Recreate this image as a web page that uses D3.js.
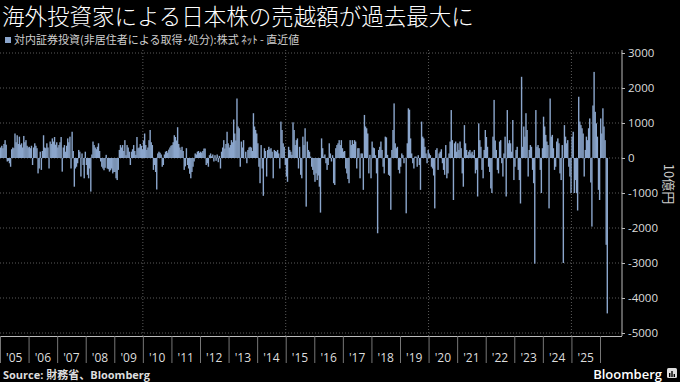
<!DOCTYPE html>
<html>
<head>
<meta charset="utf-8">
<script src="https://cdn.jsdelivr.net/npm/d3@7"></script>
<style>
  body { margin: 0; background: #000; }
  svg { display: block; }
</style>
</head>
<body>
<script>
    // net purchases of Japanese stocks by non-residents, 10億円, about two weeks per value
    var v2005 = [300, 350, 280, 400, 510, 380, -100, -80, -150, -250, 250, 300, 280, 700, 450, 650, 400, 610, 380, 420, 300, 630, 450, 510, 350, 300];
    var v2006 = [320, 280, 350, -200, 300, 420, 350, 280, -440, -300, 180, -340, 200, 650, 300, 280, 420, 300, -300, 470, 400, 560, 470, 600, 380, 450];
    var v2007 = [300, 370, 450, 600, -390, 300, 370, 180, 350, 560, 450, 610, -300, 750, 200, -820, -300, -250, -150, 230, 180, -530, 130, -200, -580, 180];
    var v2008 = [-200, -480, -580, -300, -960, 100, 470, 370, 300, 250, 320, 420, 200, -100, -250, -300, -350, -280, 90, -300, -320, -390, -350, -300, -440, -400];
    var v2009 = [-400, -580, -630, -340, 230, 370, 300, 370, 200, 510, 80, 370, 300, 180, -200, 180, 250, 370, 200, 90, 600, 280, 300, 400, 350, 250];
    var v2010 = [500, 700, 370, 230, 300, 510, 800, 450, 370, -340, -200, -400, -900, 130, 180, 150, 100, -250, -200, 100, 180, 200, 150, 240, 300, 350];
    var v2011 = [370, 450, 650, 600, 500, 880, 400, 300, 230, 320, 200, -340, -240, 280, -200, -300, -450, -580, -400, -250, -100, 130, 100, 180, 200, 150];
    var v2012 = [180, 150, 200, 270, 270, -200, -150, -250, 80, 130, 50, 100, -100, 80, -80, 100, -120, 60, -300, 180, 300, 510, 270, 400, 750, 420];
    var v2013 = [300, 370, 510, 450, 1100, 700, 500, 1700, 900, 850, -250, 470, 300, 510, -10, 180, -150, 230, 300, 320, 300, 200, 1280, 900, 800, 700];
    var v2014 = [420, -250, -720, 370, -300, -1080, 280, 200, -530, 230, 320, 250, 280, 180, -580, 230, 200, 180, 230, 130, -300, 1040, 800, 420, 320, -200];
    var v2015 = [-530, -680, 320, 230, 180, 90, 1020, 800, 370, 510, 560, -300, 320, -480, -580, 610, 370, 850, -1390, 470, 230, 180, 40, -250, -340, -480];
    var v2016 = [-680, -440, -630, -500, -820, -1560, 560, 280, 40, 100, -150, -340, -200, 420, 130, -100, 80, -720, -770, 280, 370, 420, 510, 370, 510, 280];
    var v2017 = [180, 200, -300, -440, -600, -720, 510, 370, 510, 400, 510, 470, -300, 280, 280, -580, 130, 130, -910, 1230, 900, 850, 700, -440, 90, -580];
    var v2018 = [470, 300, 280, 80, -440, -2150, 230, 320, 470, 230, -250, -440, 610, 590, 90, -480, -510, -1480, 230, 800, 1560, 420, 280, 320, -340, -440];
    var v2019 = [-250, 130, 80, -150, 0, -1580, 420, 1420, 1380, 560, 130, -150, -300, 40, 40, -250, 80, -200, -910, 1040, 610, 560, 320, 130, -150, 230];
    var v2020 = [130, 80, -250, -300, -500, -1440, 230, 280, -340, 130, 180, 250, -150, -340, -480, 370, -580, -440, 130, 470, 1370, 510, -1200, 420, 470, 180];
    var v2021 = [420, 230, 470, 280, -440, -820, 940, 420, 230, 80, 180, 230, 130, 180, 80, 230, -440, -340, -1100, 990, 510, 320, -340, -580, 230, 800];
    var v2022 = [600, 320, -250, -400, -870, -1000, 610, 1660, 500, 230, -340, -440, 470, 510, -150, -530, 130, 610, -1100, 1370, 420, 510, 420, 180, 1085, -630];
    var v2023 = [-250, 230, 320, -340, -630, -1300, 2320, 320, 900, 610, 1280, 800, -530, 230, 370, 320, -340, -720, -3020, 1370, 320, 370, 280, -340, -1000, 280];
    var v2024 = [1180, 900, 660, 470, 370, -1440, 1700, 610, 660, 280, -340, -250, 470, 560, 420, -440, -630, 370, -3000, 940, 610, 420, 510, -250, -530, -1000];
    var v2025 = [610, 750, -1000, -630, -1000, -1500, 1750, 1040, 940, 850, 700, -530, 230, 610, 510, 850, 1130, -700, -1960, 1500, 2460, 1320, 990, 610, -910, -1200, 1130, 700, 1420, 900, 510, -2480, -4440];

    var yearTicks = d3.range(2005, 2027);
    var yearLabels = ["'05", "'06", "'07", "'08", "'09", "'10", "'11", "'12", "'13", "'14", "'15",
                      "'16", "'17", "'18", "'19", "'20", "'21", "'22", "'23", "'24", "'25"];
    var yTicks = [3000, 2000, 1000, 0, -1000, -2000, -3000, -4000, -5000];
    var gridYears = [2010, 2015, 2020, 2025];

    var perYear = 26;
    var values = [].concat(v2005, v2006, v2007, v2008, v2009, v2010, v2011, v2012, v2013, v2014,
                           v2015, v2016, v2017, v2018, v2019, v2020, v2021, v2022, v2023, v2024, v2025);

    var w = 680, h = 382;
    var cjk = "'Noto Sans CJK JP', sans-serif";
    var latin = "'Open Sans', 'Noto Sans CJK JP', sans-serif";

    var svg = d3.select("body").append("svg")
            .attr("width", w)
            .attr("height", h)
            .style("background", "#000");

    var x = d3.scaleLinear().domain([2005, 2026]).range([0, 600]);
    var y = d3.scaleLinear().domain([-5000, 3000]).range([333, 53]);

    // title + legend
    svg.append("text")
        .attr("x", 2).attr("y", 25)
        .attr("fill", "#fff")
        .style("font-family", cjk)
        .style("font-size", "22.5px")
        .style("font-weight", "300")
        .text("海外投資家による日本株の売越額が過去最大に");

    svg.append("rect")
        .attr("x", 5).attr("y", 37).attr("width", 6).attr("height", 6)
        .attr("fill", "#8ba6cc");
    svg.append("text")
        .attr("x", 14).attr("y", 44)
        .attr("fill", "#cfcfcf")
        .style("font-family", cjk)
        .style("font-size", "11px")
        .text("対内証券投資(非居住者による取得･処分):株式 ﾈｯﾄ - 直近値");

    // dotted grid
    var grid = svg.append("g").attr("stroke", "#5a5a5a").attr("stroke-dasharray", "1,2");
    grid.selectAll("line.h").data(yTicks).enter().append("line")
        .attr("class", "h")
        .attr("x1", 0).attr("x2", 622)
        .attr("y1", function (d) { return y(d); })
        .attr("y2", function (d) { return y(d); });
    grid.selectAll("line.v").data(gridYears).enter().append("line")
        .attr("class", "v")
        .attr("x1", function (d) { return x(d); })
        .attr("x2", function (d) { return x(d); })
        .attr("y1", 50).attr("y2", 336);

    // bars
    var step = x(2005 + 1 / perYear) - x(2005);
    svg.append("g").selectAll("rect").data(values).enter().append("rect")
        .attr("x", function (d, i) { return x(2005 + i / perYear); })
        .attr("width", step + 0.3)
        .attr("y", function (d) { return y(Math.max(0, d)); })
        .attr("height", function (d) { return Math.abs(y(d) - y(0)); })
        .attr("fill", "#8ba6cc");

    // right axis
    var yAxis = svg.append("g")
        .attr("transform", "translate(622,0)")
        .call(d3.axisRight(y).tickValues(yTicks).tickSize(3).tickPadding(3)
            .tickFormat(function (d) { return String(d); }));
    yAxis.select(".domain").attr("d", "M0,50V336").attr("stroke", "#bbb");
    yAxis.selectAll(".tick line").attr("stroke", "#bbb");
    yAxis.selectAll(".tick text")
        .attr("fill", "#ddd")
        .style("font-family", latin)
        .style("font-size", "11.5px");

    svg.append("text")
        .attr("transform", "translate(664,184) rotate(90)")
        .attr("text-anchor", "middle")
        .attr("fill", "#ccc")
        .style("font-family", cjk)
        .style("font-size", "13px")
        .text("10億円");

    // bottom axis: long year separators, labels centred in each year
    var xAxis = svg.append("g")
        .attr("transform", "translate(0,336)")
        .call(d3.axisBottom(x).tickValues(yearTicks).tickSize(27).tickFormat(""));
    xAxis.select(".domain").attr("d", "M0,0.5H622").attr("stroke", "#bbb");
    xAxis.selectAll(".tick line").attr("stroke", "#777");

    svg.append("g").selectAll("text").data(yearLabels).enter().append("text")
        .attr("x", function (d, i) { return x(2005.5 + i); })
        .attr("y", 362)
        .attr("text-anchor", "middle")
        .attr("fill", "#ddd")
        .style("font-family", latin)
        .style("font-size", "12px")
        .text(function (d) { return d; });

    // footer
    svg.append("text")
        .attr("x", 3).attr("y", 379)
        .attr("fill", "#ddd")
        .style("font-family", latin)
        .style("font-size", "11px")
        .style("font-weight", "bold")
        .text("Source: 財務省、Bloomberg");

    svg.append("text")
        .attr("x", 662).attr("y", 379)
        .attr("text-anchor", "end")
        .attr("fill", "#fff")
        .style("font-family", latin)
        .style("font-size", "13px")
        .style("font-weight", "600")
        .text("Bloomberg");
    var logo = svg.append("g").attr("transform", "translate(667,368)");
    logo.append("rect").attr("width", 10).attr("height", 10).attr("rx", 1.5).attr("fill", "#ddd");
    logo.selectAll("rect.b").data([4, 6, 3]).enter().append("rect")
        .attr("class", "b")
        .attr("x", function (d, i) { return 2 + i * 2.3; })
        .attr("y", function (d) { return 9 - d; })
        .attr("width", 1.4)
        .attr("height", function (d) { return d; })
        .attr("fill", "#000");
</script>
</body>
</html>
